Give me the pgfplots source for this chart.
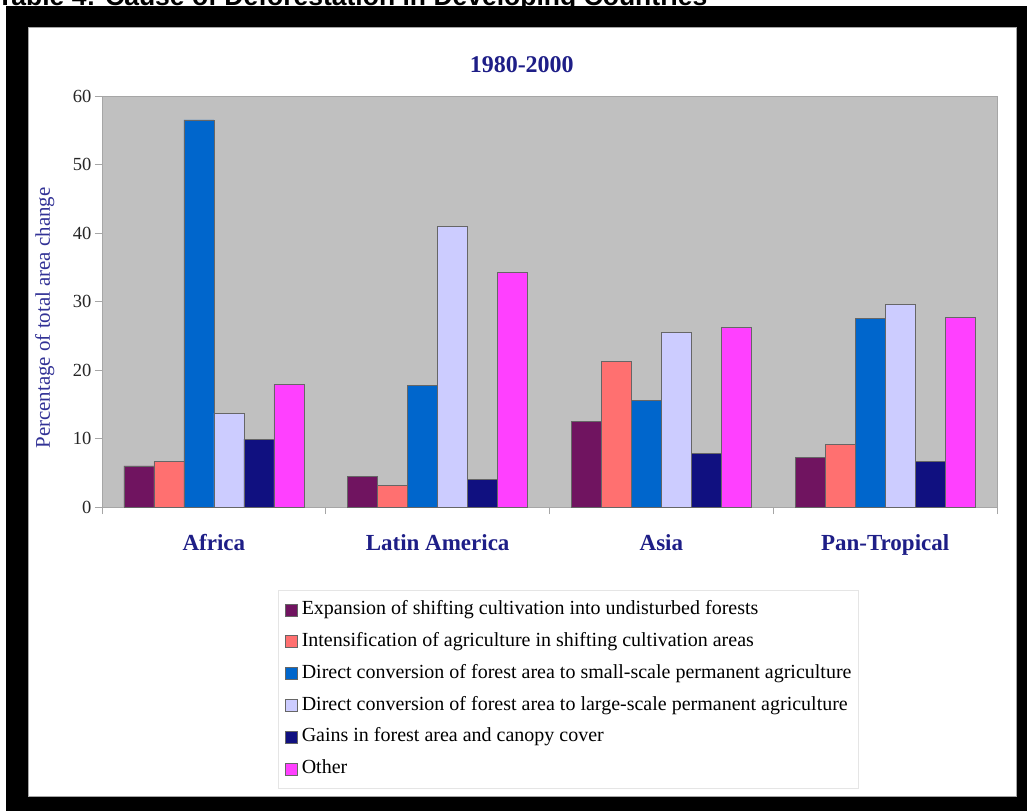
\documentclass[border=0pt]{standalone}
\usepackage{pgfplots}
\pgfplotsset{compat=1.18}
\usepackage{fontspec}
\setmainfont{Liberation Serif}
\newfontfamily\headfont{Liberation Sans}
\definecolor{cExp}{RGB}{112,20,96}
\definecolor{cInt}{RGB}{255,112,112}
\definecolor{cSmall}{RGB}{0,102,204}
\definecolor{cLarge}{RGB}{204,204,255}
\definecolor{cGain}{RGB}{16,16,128}
\definecolor{cOther}{RGB}{255,64,255}
\definecolor{cNavy}{RGB}{30,30,135}
\definecolor{cLab}{RGB}{50,50,150}
\definecolor{cPlot}{RGB}{192,192,192}

\begin{document}
\begin{tikzpicture}[x=1pt,y=1pt]
\path[use as bounding box] (0,0) rectangle (1027,811);
\clip (0,0) rectangle (1027,811);
\fill[white] (0,0) rectangle (1027,811);
\node[anchor=base west, inner sep=0pt, font=\headfont\bfseries\fontsize{26.5}{30}\selectfont] at (-3,805) {Table 4: Cause of Deforestation in Developing Countries};
\fill[black] (6,0) rectangle (1027,805);
\fill[white] (28,14) rectangle (1017,784);
\draw[black!35, line width=1.2pt] (28.6,14.6) rectangle (1016.4,783.4);
\begin{axis}[
  at={(102pt,304pt)}, anchor=south west,
  scale only axis, width=895pt, height=411pt,
  xmin=-0.5, xmax=3.5, ymin=0, ymax=60,
  ybar=0pt, bar width=30pt,
  axis background/.style={fill=cPlot},
  axis line style={black!35},
  tick pos=left, tick align=outside,
  major tick length=7pt,
  tick style={black!35, line width=0.8pt},
  xtick={-0.5,0.5,1.5,2.5,3.5},
  x tick label as interval,
  xticklabels={Africa, Latin America, Asia, Pan-Tropical},
  xticklabel style={font=\bfseries\fontsize{23}{27}\selectfont, text=cNavy, anchor=base, yshift=-36pt},
  ytick={0,10,...,60},
  yticklabel style={font=\fontsize{18.5}{21}\selectfont, text=black!85},
  /pgf/number format/assume math mode=true,
  title={1980-2000},
  title style={font=\bfseries\fontsize{24}{28}\selectfont, text=cNavy, at={(axis description cs:0.469,1.062)}, anchor=center},
  ylabel={Percentage of total area change},
  ylabel style={font=\fontsize{20.9}{23}\selectfont, text=cLab, at={(axis description cs:-0.064,0.46)}, anchor=center},
  legend style={at={(0.1966,-0.202)}, anchor=north west, draw=black!10, fill=white,
    inner xsep=7pt, inner ysep=10.5pt, row sep=13.5pt, column sep=4pt,
    font=\fontsize{20}{23}\selectfont,
    nodes={inner sep=0pt, text height=14pt, text depth=4.3pt}},
  legend cell align=left,
  legend image code/.code={\draw[#1, line width=0.6pt] (0pt,-6pt) rectangle (12pt,6pt);},
  every axis plot/.append style={draw=black!60, line width=0.7pt},
]
\addplot[fill=cExp] coordinates {(0,6.0) (1,4.5) (2,12.5) (3,7.2)};
\addplot[fill=cInt] coordinates {(0,6.6) (1,3.2) (2,21.2) (3,9.1)};
\addplot[fill=cSmall] coordinates {(0,56.5) (1,17.7) (2,15.5) (3,27.5)};
\addplot[fill=cLarge] coordinates {(0,13.7) (1,41.0) (2,25.5) (3,29.6)};
\addplot[fill=cGain] coordinates {(0,9.9) (1,4.0) (2,7.8) (3,6.7)};
\addplot[fill=cOther] coordinates {(0,17.9) (1,34.2) (2,26.2) (3,27.7)};
\legend{Expansion of shifting cultivation into undisturbed forests,
Intensification of agriculture in shifting cultivation areas,
Direct conversion of forest area to small-scale permanent agriculture,
Direct conversion of forest area to large-scale permanent agriculture,
Gains in forest area and canopy cover,
Other}
\end{axis}
\end{tikzpicture}
\end{document}
